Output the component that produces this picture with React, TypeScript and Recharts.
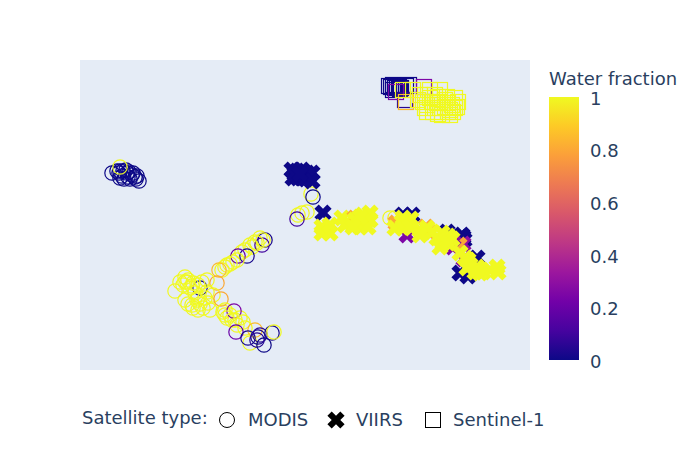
import React from 'react';
import { BarChart, Bar, CartesianGrid, Legend, ScatterChart, Scatter, XAxis, YAxis } from 'recharts';

const FONT = '"DejaVu Sans", Verdana, sans-serif';
const TEXT = '#2a3f5f';

// plasma colour stops, 0 to 1
const plasma = ['#0d0887', '#46039f', '#7201a8', '#9c179e', '#bd3786', '#d8576b', '#ed7953', '#fb9f3a', '#fdca26', '#f0f921'];

const modisX = [32, 37, 39, 42, 43, 47, 49, 52, 53, 55, 57, 59, 56, 48, 40, 44, 50, 46, 40, 120, 105, 108, 112, 118, 122, 118, 125, 105, 108, 118, 120, 130, 103, 100, 145, 150, 143, 155, 160, 165, 153, 162, 170, 147, 142, 175, 180, 185, 182, 177, 183, 172, 165, 167, 158, 157, 150, 145, 139, 137, 127, 105, 107, 113, 95, 110, 115, 127, 112, 113, 123, 128, 117, 133, 141, 145, 154, 147, 152, 163, 157, 156, 175, 170, 168, 178, 177, 180, 184, 192, 194, 231, 233, 218, 222, 227, 217, 310, 315, 40];
const modisY = [197, 199, 197, 194, 199, 197, 198, 195, 197, 193, 194, 189, 191, 193, 192, 191, 191, 200, 199, 82, 88, 90, 84, 85, 88, 72, 72, 70, 66, 60, 66, 60, 85, 88, 55, 55, 58, 50, 52, 42, 108, 118, 125, 105, 100, 128, 132, 130, 125, 127, 130, 123, 120, 114, 114, 110, 106, 103, 100, 87, 90, 93, 88, 87, 79, 82, 77, 78, 65, 62, 62, 67, 70, 75, 71, 60, 59, 52, 50, 48, 45, 38, 40, 27, 32, 33, 30, 35, 25, 37, 38, 176, 173, 155, 157, 158, 151, 152, 152, 203];
const modisWater = [0, 0, 0, 0, 0, 0, 0, 0, 0, 0, 0, 0, 0, 0, 0, 0, 0, 0, 0, 0, 1, 1, 1, 1, 1, 1, 1, 1, 1, 1, 1, 1, 1, 1, 1, 1, 1, 1, 1, 1, 1, 1, 1, 1, 1, 1, 1, 0.02, 0.1, 1, 1, 1, 1, 0.02, 0.2, 1, 1, 1, 0.85, 0.8, 1, 1, 1, 1, 1, 1, 1, 1, 1, 1, 1, 1, 1, 1, 0.8, 1, 0.25, 1, 1, 1, 1, 0.2, 0.85, 1, 0.02, 0.02, 0.05, 0.05, 0, 0.02, 1, 1, 0, 1, 1, 1, 0.1, 1, 1, 1];

const viirsX = [212, 213, 217, 218, 222, 223, 227, 226, 232, 232, 215, 220, 243, 242, 242, 250, 250, 262, 268, 265, 275, 275, 280, 283, 290, 290, 288, 280, 273, 323, 332, 316, 327, 346, 350, 367, 380, 384, 383, 382, 383, 379, 373, 384, 397, 380, 388, 397, 323, 331, 322, 328, 315, 323, 330, 340, 347, 352, 340, 357, 362, 368, 372, 363, 360, 367, 368, 380, 385, 390, 387, 397, 403, 410, 417, 418, 400, 395, 388];
const viirsY = [200, 192, 199, 192, 200, 192, 197, 191, 197, 189, 196, 196, 157, 143, 137, 137, 145, 152, 148, 145, 152, 150, 143, 155, 157, 150, 143, 153, 143, 155, 155, 147, 135, 143, 137, 138, 133, 130, 133, 135, 126, 125, 123, 111, 103, 97, 94, 112, 152, 151, 148, 148, 142, 142, 143, 140, 142, 138, 135, 132, 137, 134, 131, 127, 123, 130, 127, 117, 112, 105, 102, 103, 98, 100, 103, 98, 97, 98, 110];
const viirsWater = [0, 0, 0, 0, 0, 0, 0, 0, 0, 0, 0, 0, 0, 1, 1, 1, 1, 1, 1, 1, 0.8, 1, 1, 1, 1, 1, 1, 1, 1, 0, 0, 0.8, 0.25, 0.8, 0.8, 0, 0, 0, 0, 0, 0.3, 0.8, 0.25, 0.25, 0.25, 0, 0, 0, 1, 1, 1, 1, 1, 1, 1, 1, 1, 1, 1, 1, 1, 1, 1, 1, 1, 1, 1, 1, 1, 1, 1, 1, 1, 1, 1, 1, 1, 1, 1];

const sentinelX = [309, 311, 313, 315, 317, 319, 321, 326, 329, 313, 320, 325, 344, 316, 326, 323, 333, 338, 345, 350, 360, 367, 375, 347, 357, 365, 375, 353, 362, 370, 377, 358, 352, 368, 362, 347, 373, 340, 343, 350, 355, 360, 365, 370, 372, 355, 345, 358, 368, 378];
const sentinelY = [284, 283, 285, 282, 284, 283, 282, 284, 285, 280, 281, 270, 283, 278, 268, 280, 280, 270, 275, 280, 280, 273, 272, 265, 267, 263, 262, 258, 255, 255, 263, 273, 268, 267, 262, 258, 258, 275, 268, 272, 262, 268, 270, 260, 265, 275, 262, 256, 258, 268];
const sentinelWater = [0, 0, 0, 0, 0, 0, 0, 0, 0, 0, 0, 0.05, 0.25, 0.25, 0.85, 1, 1, 1, 1, 1, 1, 1, 1, 1, 1, 1, 1, 1, 1, 1, 1, 1, 1, 1, 1, 1, 1, 1, 1, 1, 1, 1, 1, 1, 1, 1, 1, 1, 1, 1];

const colorbarTicks = [0, 0.2, 0.4, 0.6, 0.8, 1];

const toPoints = (xs: number[], ys: number[], water: number[]) =>
  xs.map((x, i) => ({ x, y: ys[i], water: water[i] }));

const hex = (c: string) => [1, 3, 5].map((i) => parseInt(c.slice(i, i + 2), 16));

const plasmaColor = (v: number) => {
  const pos = Math.min(Math.max(v, 0), 1) * (plasma.length - 1);
  const lo = Math.floor(pos);
  const hi = Math.min(lo + 1, plasma.length - 1);
  const a = hex(plasma[lo]);
  const b = hex(plasma[hi]);
  const t = pos - lo;
  return `rgb(${a.map((n, i) => Math.round(n + (b[i] - n) * t)).join(',')})`;
};

const crossPath = (cx: number, cy: number, d: number) =>
  `M${cx},${cy - d}L${cx + d},${cy - 2 * d}L${cx + 2 * d},${cy - d}L${cx + d},${cy}L${cx + 2 * d},${cy + d}L${cx + d},${cy + 2 * d}L${cx},${cy + d}L${cx - d},${cy + 2 * d}L${cx - 2 * d},${cy + d}L${cx - d},${cy}L${cx - 2 * d},${cy - d}L${cx - d},${cy - 2 * d}Z`;

const Ring = ({ cx, cy, payload }: any) => (
  <circle cx={cx} cy={cy} r={7.2} fill="none" stroke={plasmaColor(payload.water)} strokeWidth={1.2} />
);

const Cross = ({ cx, cy, payload }: any) => (
  <path d={crossPath(cx, cy, 4.3)} fill={plasmaColor(payload.water)} />
);

const Box = ({ cx, cy, payload }: any) => (
  <rect x={cx - 7.5} y={cy - 7.5} width={15} height={15} fill="none" stroke={plasmaColor(payload.water)} strokeWidth={1.2} />
);

const labelStyle: React.CSSProperties = { position: 'absolute', top: 10, fontSize: 18, color: TEXT, whiteSpace: 'nowrap', lineHeight: '20px' };

const SatelliteLegend = () => (
  <div style={{ position: 'relative', width: 700, height: 40, fontFamily: FONT }}>
    <span style={{ ...labelStyle, left: 82, top: 8 }}>Satellite type:</span>
    <svg width={700} height={40} style={{ position: 'absolute', left: 0, top: 0 }}>
      <circle cx={227} cy={20} r={7.5} fill="none" stroke="#000" strokeWidth={1} />
      <path d={crossPath(336, 20, 4.3)} fill="#000" />
      <rect x={425.5} y={12.5} width={15} height={15} fill="none" stroke="#000" strokeWidth={1} />
    </svg>
    <span style={{ ...labelStyle, left: 248 }}>MODIS</span>
    <span style={{ ...labelStyle, left: 356 }}>VIIRS</span>
    <span style={{ ...labelStyle, left: 453 }}>Sentinel-1</span>
  </div>
);

const Colorbar = () => (
  <div style={{ position: 'absolute', left: 549, top: 85 }}>
    <BarChart
      width={90}
      height={287}
      data={[{ name: 'Water fraction', value: 1 }]}
      barCategoryGap={0}
      margin={{ top: 12, right: 0, bottom: 12, left: 0 }}
    >
      <defs>
        <linearGradient id="plasmaFill" x1="0" y1="1" x2="0" y2="0">
          {plasma.map((c, i) => (
            <stop key={c} offset={i / (plasma.length - 1)} stopColor={c} />
          ))}
        </linearGradient>
      </defs>
      <XAxis dataKey="name" hide />
      <YAxis
        orientation="right"
        width={60}
        domain={[0, 1]}
        ticks={colorbarTicks}
        axisLine={false}
        tickLine={false}
        tickMargin={5}
        interval={0}
        tick={{ fontSize: 18, fill: TEXT, fontFamily: FONT, dy: 1.5 }}
      />
      <Bar dataKey="value" fill="url(#plasmaFill)" isAnimationActive={false} />
    </BarChart>
  </div>
);

export default function App() {
  return (
    <div style={{ position: 'absolute', left: 0, top: 0, width: 700, height: 450, background: '#fff', fontFamily: FONT }}>
      <ScatterChart width={700} height={450} margin={{ top: 60, right: 170, bottom: 40, left: 80 }}>
        <CartesianGrid horizontal={false} vertical={false} fill="#e5ecf6" />
        <XAxis type="number" dataKey="x" domain={[0, 450]} hide />
        <YAxis type="number" dataKey="y" domain={[0, 310]} hide />
        <Legend
          content={<SatelliteLegend />}
          wrapperStyle={{ left: 0, top: 400, width: 700, height: 40 }}
        />
        <Scatter name="MODIS" data={toPoints(modisX, modisY, modisWater)} shape={<Ring />} isAnimationActive={false} />
        <Scatter name="VIIRS" data={toPoints(viirsX, viirsY, viirsWater)} shape={<Cross />} isAnimationActive={false} />
        <Scatter name="Sentinel-1" data={toPoints(sentinelX, sentinelY, sentinelWater)} shape={<Box />} isAnimationActive={false} />
      </ScatterChart>
      <div style={{ position: 'absolute', left: 549, top: 71, fontSize: 18, color: TEXT, whiteSpace: 'nowrap', lineHeight: '16px' }}>
        Water fraction
      </div>
      <Colorbar />
    </div>
  );
}
